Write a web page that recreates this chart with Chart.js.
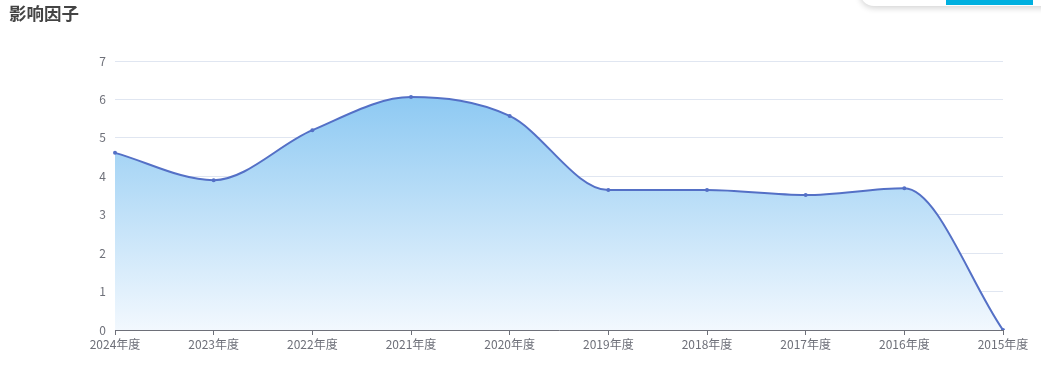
<!DOCTYPE html>
<html>
<head>
<meta charset="utf-8">
<script src="https://cdn.jsdelivr.net/npm/chart.js@4"></script>
<style>
  body{margin:0;background:#fff;width:1041px;height:386px;overflow:hidden;position:relative;font-family:"Noto Sans CJK SC","Noto Sans",sans-serif;}
  #title{position:absolute;left:9px;top:0px;font-size:17.5px;font-weight:bold;color:#444;}
  #wrap{position:absolute;left:0;top:0;width:1041px;height:386px;}
  #panel{position:absolute;left:860px;top:-20px;width:200px;height:26px;background:#fff;border-radius:0 0 0 14px;box-shadow:0 2px 6px rgba(0,0,0,0.18);}
  #bar{position:absolute;left:946px;top:0;width:87px;height:5px;background:#00b0e0;}
</style>
</head>
<body>
<div id="wrap"><canvas id="myChart"></canvas></div>
<div id="title">影响因子</div>
<div id="panel"></div>
<div id="bar"></div>
<script>
const years = ['2024年度','2023年度','2022年度','2021年度','2020年度','2019年度','2018年度','2017年度','2016年度','2015年度'];
const impact = [4.61, 3.9, 5.2, 6.06, 5.57, 3.64, 3.64, 3.51, 3.69, 0];
const yTicks = [0,1,2,3,4,5,6,7];

const renderChart=(data,labels)=>{
  const ctx = document.getElementById('myChart');

  new Chart(ctx, {
    type: 'line',
    data: {
      labels: labels,
      datasets: [{
        label: '影响因子',
        data: data,
        borderColor: '#5470c6',
        borderWidth: 2,
        cubicInterpolationMode: 'monotone',
        pointRadius: 2,
        pointBackgroundColor: '#5470c6',
        pointBorderWidth: 0,
        fill: true,
        backgroundColor: (c) => {
          const area = c.chart.chartArea;
          if (!area) return 'rgba(130,195,240,0.6)';
          const g = c.chart.ctx.createLinearGradient(0, area.top + 30, 0, area.bottom);
          g.addColorStop(0, '#8bc8f2');
          g.addColorStop(1, '#f2f8fe');
          return g;
        }
      }]
    },
    options: {
      responsive: true,
      maintainAspectRatio: false,
      animation: false,
      layout: { padding: { left: 0, right: 38, top: 61, bottom: 0 } },
      plugins: { legend: { display: false }, tooltip: { enabled: false } },
      scales: {
        x: {
          offset: false,
          afterFit: (s) => { s.height = 56; },
          border: { color: '#6e7079', width: 1 },
          grid: { drawOnChartArea: false, drawTicks: true, tickLength: 5, color: '#6e7079' },
          ticks: { color: '#6e7079', font: { size: 12, family: '"Noto Sans CJK SC", sans-serif' }, padding: 2, maxRotation: 0, autoSkip: false }
        },
        y: {
          min: 0,
          max: 7,
          afterFit: (s) => { s.width = 115; },
          afterBuildTicks: (s) => { s.ticks = yTicks.map(v => ({ value: v })); },
          border: { display: false },
          grid: { color: '#e0e6f1', drawTicks: false },
          ticks: { color: '#6e7079', font: { size: 12, family: '"Noto Sans CJK SC", sans-serif' }, padding: 9 }
        }
      }
    }
  });
}

renderChart(impact, years);
</script>
</body>
</html>
